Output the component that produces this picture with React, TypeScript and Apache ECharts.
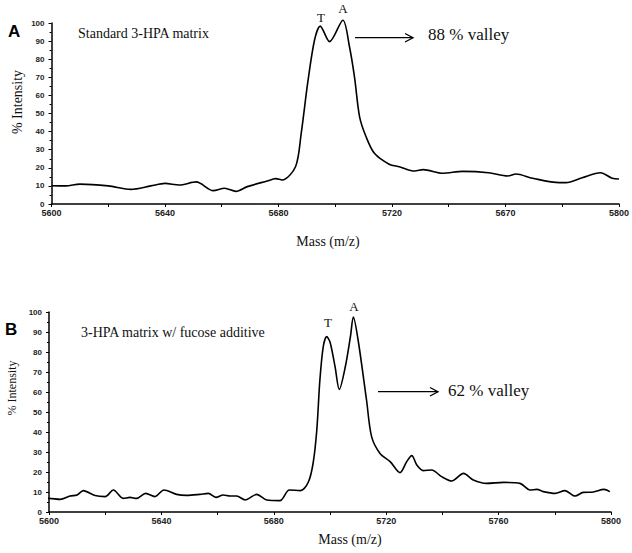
import React, { useEffect, useRef } from "react";
import * as echarts from "echarts";

const massA = [5600,5605,5610,5620,5628,5635,5640,5645,5651,5657,5661,5665,5669,5676,5679,5681.3,5686,5688,5690.3,5692.7,5694.7,5698,5702.7,5705,5706.8,5708.6,5710.9,5713.8,5719,5722.6,5728,5731,5737.9,5744.9,5754,5760.8,5763.7,5769.6,5779,5781.3,5787,5793.5,5797.6,5800];
const intensityA = [10.1,10,11,10,8.1,10,11.4,10.5,12.2,7.4,8.7,7.0,9.6,12.7,14,13.3,20.6,39,67,90.6,98.3,89.7,101.5,87,70,48,37,28,22,20.6,18.2,19,17,18,17.3,15.5,16.6,14.2,11.8,11.8,14.5,17.3,14.2,13.8];

const massB = [5598,5600,5604,5607.5,5610,5612.2,5616.4,5620,5622.9,5626.4,5628.8,5631.2,5634.4,5637.7,5640.9,5645.4,5649,5653.7,5656.7,5659.4,5662,5664.4,5666.8,5669.8,5673.9,5677.5,5682.2,5685.5,5689.5,5692.3,5694,5695.3,5696.4,5697.6,5698.8,5700,5701.8,5703.3,5705.5,5707.3,5708.3,5710,5713,5714.8,5717.8,5721.4,5724.9,5727.3,5729.1,5730.9,5733.2,5736.2,5739.7,5743.3,5747.5,5751,5755.8,5761.7,5767.6,5771.2,5773.6,5775.9,5780.1,5783.6,5787.2,5790.1,5793.7,5797.5,5799.6];
const intensityB = [6.8,6.8,6.3,8,8.5,10.7,8.2,7.7,11,6.8,7.3,6.8,9.3,7.7,11,8.8,8.3,8.8,9.3,7.3,8.5,8,8,6,8.8,6,5.7,11,10.7,15,24.5,41,66,82.7,87.7,85,72.7,61.3,73,88,97.5,86,56,37.7,29.3,25.2,19.7,25.2,28.2,23.5,20.7,21,17.7,15.5,19.3,16,14.3,14.8,14.3,11,11.3,10.2,9.3,10.7,8,9.8,10,11.3,10.2];

// Tick labels as printed (top panel has "5670" in place of 5760)
const xTickValues = [5600, 5640, 5680, 5720, 5760, 5800];
const xTickLabelsA = ["5600", "5640", "5680", "5720", "5670", "5800"];
const xTickLabelsB = ["5600", "5640", "5680", "5720", "5760", "5800"];

const SERIF = "'Liberation Serif', 'Times New Roman', serif";
const SANS = "'Liberation Sans', Arial, sans-serif";

function xAxis(gridIndex: number, labels: string[]) {
  return {
    type: "value",
    gridIndex,
    min: 5600,
    max: 5800,
    interval: 40,
    axisLine: { show: true, lineStyle: { color: "#000", width: 1.5 } },
    axisTick: { show: true, length: 3, lineStyle: { color: "#000", width: 1 } },
    minorTick: { show: true, splitNumber: 2, length: 3, lineStyle: { color: "#000", width: 1 } },
    splitLine: { show: false },
    axisLabel: {
      show: true,
      margin: 4,
      fontSize: 9,
      fontWeight: "bold",
      fontFamily: SANS,
      color: "#222",
      showMinLabel: true,
      showMaxLabel: true,
      formatter: (v: number) => {
        const i = xTickValues.indexOf(Math.round(v));
        return i >= 0 ? labels[i] : "";
      },
    },
  };
}

function yAxis(gridIndex: number) {
  return {
    type: "value",
    gridIndex,
    min: 0,
    max: 100,
    interval: 10,
    axisLine: { show: true, lineStyle: { color: "#000", width: 1.5 } },
    axisTick: { show: true, length: 3, lineStyle: { color: "#000", width: 1 } },
    minorTick: { show: true, splitNumber: 2, length: 2, lineStyle: { color: "#000", width: 1 } },
    splitLine: { show: false },
    axisLabel: {
      show: true,
      margin: 7,
      fontSize: 8,
      fontWeight: "bold",
      fontFamily: SANS,
      color: "#222",
    },
  };
}

export default function App() {
  const ref = useRef<HTMLDivElement>(null);
  useEffect(() => {
    if (!ref.current) return;
    const chart = echarts.init(ref.current, null, { renderer: "svg" });
    const dataA = massA.map((m, i) => [m, intensityA[i]]);
    const dataB = massB.map((m, i) => [m, intensityB[i]]);
    const serif = (text: string, x: number, y: number, size: number, extra: any = {}) => ({
      type: "text",
      x,
      y,
      style: { text, fontSize: size, fontFamily: SERIF, fill: "#111", textVerticalAlign: "middle", ...extra.style },
      ...extra.el,
    });
    chart.setOption({
      animation: false,
      backgroundColor: "#fff",
      grid: [
        { left: 51.5, top: 23, width: 568, height: 181 },
        { left: 49, top: 312, width: 562, height: 200 },
      ],
      xAxis: [xAxis(0, xTickLabelsA), xAxis(1, xTickLabelsB)],
      yAxis: [yAxis(0), yAxis(1)],
      series: [
        {
          type: "line",
          xAxisIndex: 0,
          yAxisIndex: 0,
          data: dataA,
          smooth: 0.3,
          showSymbol: false,
          clip: false,
          lineStyle: { color: "#000", width: 1.6 },
        },
        {
          type: "line",
          xAxisIndex: 1,
          yAxisIndex: 1,
          data: dataB,
          smooth: 0.3,
          showSymbol: false,
          clip: false,
          lineStyle: { color: "#000", width: 1.6 },
        },
      ],
      graphic: [
        { type: "text", x: 8, y: 31, style: { text: "A", fontSize: 17, fontWeight: "bold", fontFamily: SANS, fill: "#000", textVerticalAlign: "middle" } },
        { type: "text", x: 5, y: 329, style: { text: "B", fontSize: 17, fontWeight: "bold", fontFamily: SANS, fill: "#000", textVerticalAlign: "middle" } },
        serif("Standard 3-HPA matrix", 78, 33, 14),
        serif("3-HPA matrix w/ fucose additive", 81, 332, 14),
        serif("T", 321, 17, 13, { style: { textAlign: "center" } }),
        serif("A", 343, 8, 13, { style: { textAlign: "center" } }),
        serif("T", 328, 322, 13, { style: { textAlign: "center" } }),
        serif("A", 354, 306, 13, { style: { textAlign: "center" } }),
        serif("88 % valley", 428, 34, 17),
        serif("62 % valley", 448, 390, 17),
        serif("Mass (m/z)", 328, 241, 14, { style: { textAlign: "center" } }),
        serif("Mass (m/z)", 350, 539, 14, { style: { textAlign: "center" } }),
        {
          type: "text",
          x: 17,
          y: 102,
          rotation: Math.PI / 2,
          style: { text: "% Intensity", fontSize: 14, fontFamily: SERIF, fill: "#111", textAlign: "center", textVerticalAlign: "middle" },
        },
        {
          type: "text",
          x: 12,
          y: 388,
          rotation: Math.PI / 2,
          style: { text: "% Intensity", fontSize: 12, fontFamily: SERIF, fill: "#111", textAlign: "center", textVerticalAlign: "middle" },
        },
        { type: "line", shape: { x1: 355, y1: 37.7, x2: 413, y2: 37.7 }, style: { stroke: "#000", lineWidth: 1.3 } },
        { type: "polyline", shape: { points: [[405, 33.5], [413, 37.7], [405, 42]] }, style: { stroke: "#000", lineWidth: 1.3, fill: "none" } },
        { type: "line", shape: { x1: 378, y1: 391.7, x2: 438, y2: 391.7 }, style: { stroke: "#000", lineWidth: 1.3 } },
        { type: "polyline", shape: { points: [[430, 387.5], [438, 391.7], [430, 396]] }, style: { stroke: "#000", lineWidth: 1.3, fill: "none" } },
      ],
    });
    return () => chart.dispose();
  }, []);
  return <div ref={ref} style={{ position: "fixed", left: 0, top: 0, width: 632, height: 553 }} />;
}
